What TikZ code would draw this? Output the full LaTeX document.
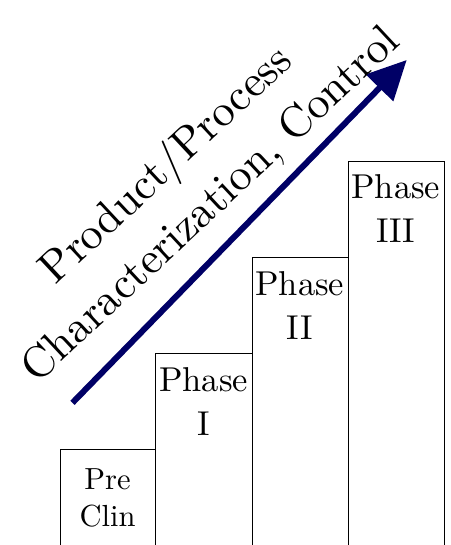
\documentclass[tikz,border=0pt]{standalone}
\usepackage{fontspec}
\setmainfont{lmroman10-regular.otf}
\usetikzlibrary{arrows.meta}
\definecolor{navyarrow}{RGB}{0,0,102}
\begin{document}
\begin{tikzpicture}[x=1pt,y=1pt,
  stagebox/.style={draw=black, line width=1pt, fill=white, anchor=south west, inner sep=0pt},
  phaselabel/.style={align=center, anchor=base, font=\fontsize{34.5}{44}\selectfont},
  preclinlabel/.style={align=center, anchor=base, font=\fontsize{30.5}{37}\selectfont},
  bigtitle/.style={anchor=base, rotate=43, font=\fontsize{44.5}{50}\selectfont},
  growth/.style={draw=navyarrow, line width=6pt, -{Triangle[length=39pt,width=37pt]}}
]
\useasboundingbox (0,0) rectangle (450,545);
% stages
\node[stagebox, minimum width=95pt, minimum height=105pt] (pc) at (60,-10) {};
\node[stagebox, minimum width=97pt, minimum height=201pt] (p1) at (155,-10) {};
\node[stagebox, minimum width=95.5pt, minimum height=297pt] (p2) at (252,-10) {};
\node[stagebox, minimum width=96.5pt, minimum height=393pt] (p3) at (347.5,-10) {};
% labels (base anchor = baseline of last line)
\node[preclinlabel] (pcl) at (107.5,18) {Pre\\Clin};
\node[phaselabel] (p1l) at (203.5,109) {Phase\\I};
\node[phaselabel] (p2l) at (299.75,205) {Phase\\II};
\node[phaselabel] (p3l) at (395.75,302) {Phase\\III};
% arrow
\coordinate (tail) at (72.5,142.2);
\coordinate (tip) at (406.7,485);
\draw[growth] (tail) -- (tip);
% title
\node[bigtitle] (t1) at (175,370.5) {Product/Process};
\node[bigtitle] (t2) at (219.5,331) {Characterization, Control};
\end{tikzpicture}
\end{document}
